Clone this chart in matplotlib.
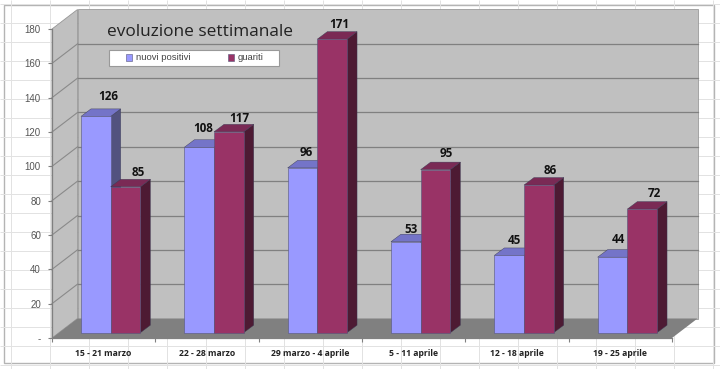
import matplotlib
matplotlib.use("Agg")
import matplotlib.pyplot as plt
from matplotlib.patches import Polygon, Rectangle, Patch

categories = ["15 - 21 marzo", "22 - 28 marzo", "29 marzo - 4 aprile",
              "5 - 11 aprile", "12 - 18 aprile", "19 - 25 aprile"]
nuovi_positivi = [126, 108, 96, 53, 45, 44]
guariti = [85, 117, 171, 95, 86, 72]
y_ticks = [0, 20, 40, 60, 80, 100, 120, 140, 160, 180]
y_labels = ["-", "20", "40", "60", "80", "100", "120", "140", "160", "180"]

# manual label nudges (pixels), the originals were dragged around by hand
blue_nudge = [(7, 12), (-1, 11), (-1, 8), (0, 5), (0, 7), (1, 10)]
red_nudge = [(8, 7), (5, 6), (2, 7), (6, 9), (6, 7), (7, 8)]

BLUE = ("#9999FF", "#7474C8", "#52527F")
RED = ("#993366", "#7A2A55", "#4D1A33")

W, H = 720, 369
X0, X1, Y0, Y180 = 52, 672, 338, 29
px_x = 6 / (X1 - X0)
px_y = 180 / (Y0 - Y180)

fig = plt.figure(figsize=(W / 100, H / 100), dpi=100, facecolor="white")

# spreadsheet behind the chart
bg = fig.add_axes([0, 0, 1, 1])
bg.set_xlim(0, W)
bg.set_ylim(H, 0)
bg.axis("off")
bg.vlines(range(11, W, 39), 0, H, color="#E2E2E2", lw=0.7)
bg.hlines(range(4, H, 19), 0, W, color="#E2E2E2", lw=0.7)
bg.add_patch(Rectangle((4, 5), 710, 358, fc="white", ec="#B4B4B4", lw=1))

ax = fig.add_axes([X0 / W, 1 - Y0 / H, (X1 - X0) / W, (Y0 - Y180) / H])
ax.set_xlim(0, 6)
ax.set_ylim(0, 180)
ax.patch.set_alpha(0)


def depth(x, y, dx, dy):
    return (x + dx * px_x, y + dy * px_y)


def poly(pts, fc, ec="none", z=1, lw=0.6):
    ax.add_patch(Polygon(pts, closed=True, fc=fc, ec=ec, lw=lw, zorder=z, clip_on=False))


# walls and floor
DX, DY = 25.5, 19.5
poly([(0, 0), depth(0, 0, DX, DY), depth(0, 180, DX, DY), (0, 180)], "#C0C0C0", "#969696")
poly([depth(0, 0, DX, DY), depth(6, 0, DX, DY), depth(6, 180, DX, DY), depth(0, 180, DX, DY)],
     "#C0C0C0", "#9A9A9A")
poly([(0, 0), (6, 0), depth(6, 0, DX, DY), depth(0, 0, DX, DY)], "#808080")

# gridlines on both walls
for v in y_ticks[1:-1]:
    bx, by = depth(0, v, DX, DY)
    ax.plot([0, bx], [v, by], color="#8A8A8A", lw=0.8, zorder=1.5, clip_on=False)
    ax.plot([bx, depth(6, v, DX, DY)[0]], [by, by], color="#808080", lw=0.9, zorder=1.5, clip_on=False)

# bars
BAR_W = 29.7 * px_x
INSET_X, INSET_Y = 7, 5.3
SIDE_X, SIDE_Y = 10, 7.5
base_y = INSET_Y * px_y
labels_font = dict(family="Open Sans", fontsize=8.4, fontweight="bold", color="#111111",
                   ha="center", va="center", zorder=8, clip_on=False)

for series, colors, offset, nudges in ((nuovi_positivi, BLUE, -BAR_W / 2, blue_nudge),
                                       (guariti, RED, BAR_W / 2, red_nudge)):
    for i, v in enumerate(series):
        xc = i + 0.5 + offset + INSET_X * px_x
        left, right = xc - BAR_W / 2, xc + BAR_W / 2
        top = v + base_y
        z = 3 + i + (0.5 if colors is RED else 0)
        poly([(right, base_y), depth(right, base_y, SIDE_X, SIDE_Y),
              depth(right, top, SIDE_X, SIDE_Y), (right, top)], colors[2], "#3A3A55", z, 0.3)
        poly([(left, top), (right, top), depth(right, top, SIDE_X, SIDE_Y),
              depth(left, top, SIDE_X, SIDE_Y)], colors[1], "#3A3A55", z, 0.3)
        ax.bar(xc, v, width=BAR_W, bottom=base_y, color=colors[0], edgecolor="#55557A",
               linewidth=0.4, zorder=z + 0.1, clip_on=False)
        nx, ny = nudges[i]
        lx, ly = depth(xc, top, SIDE_X / 2 + nx, SIDE_Y + ny)
        ax.text(lx, ly, str(v), **labels_font)

# axes
for s in ("top", "right"):
    ax.spines[s].set_visible(False)
for s in ("left", "bottom"):
    ax.spines[s].set_color("#808080")
    ax.spines[s].set_linewidth(0.9)
    ax.spines[s].set_zorder(2)
ax.set_yticks(y_ticks)
ax.set_yticklabels(y_labels, family="Liberation Sans", fontsize=7, color="#555555")
ax.set_xticks(range(7))
ax.set_xticklabels([])
ax.set_xticks([i + 0.5 for i in range(6)], minor=True)
ax.set_xticklabels(categories, minor=True, family="Open Sans", fontsize=6.2,
                   fontweight="bold", color="#222222")
ax.tick_params(axis="both", which="major", length=3, width=0.8, color="#808080")
ax.tick_params(axis="y", pad=5)
ax.tick_params(axis="x", which="minor", length=0, pad=8)

fig.text(200 / W, 1 - 31.5 / H, "evoluzione settimanale", family="Open Sans", fontsize=12.4,
         color="#222222", ha="center", va="center", zorder=10)

# legend box is a bit wider than its content, so draw it apart
fig.add_artist(Rectangle((109 / W, 1 - 66 / H), 170 / W, 16 / H, transform=fig.transFigure,
                         fc="white", ec="#999999", lw=0.8, zorder=9))
handles = [Patch(fc=BLUE[0], ec="#55557A", lw=0.4, label="nuovi positivi"),
           Patch(fc=RED[0], ec="#55557A", lw=0.4, label="guariti")]
leg = fig.legend(handles=handles, ncol=2, loc="center", bbox_to_anchor=(195 / W, 1 - 58 / H),
                 prop=dict(family="Liberation Sans", size=6.8), labelcolor="#444444",
                 frameon=False, handlelength=0.6, handleheight=0.8, handletextpad=0.4,
                 columnspacing=4.0, borderpad=0, borderaxespad=0)
leg.set_zorder(10)

fig.savefig("out.png", dpi=100)
